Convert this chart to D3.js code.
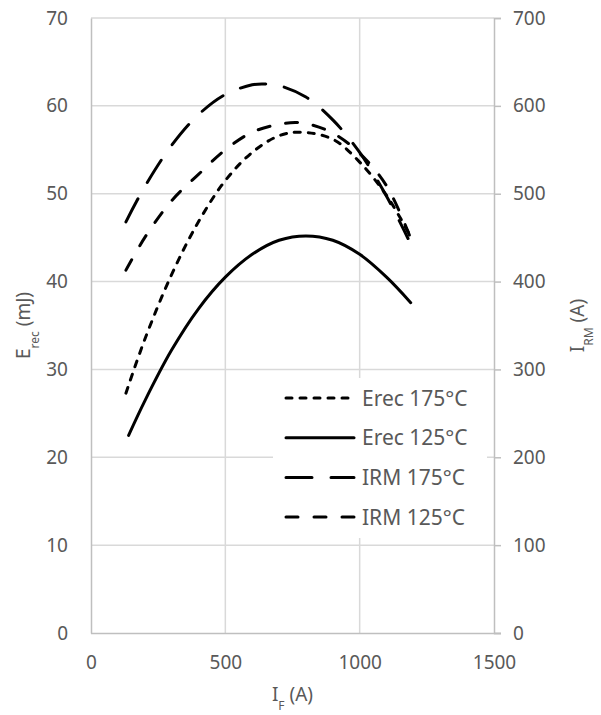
<!DOCTYPE html>
<html>
<head>
<meta charset="utf-8">
<script src="https://cdn.jsdelivr.net/npm/d3@7"></script>
<style>
  html, body { margin: 0; padding: 0; background: #fff; }
  svg { display: block; }
  text { font-family: "Noto Sans", "Open Sans", sans-serif; fill: #595959; }
</style>
</head>
<body>
<script>
// ---- data ----
const xTicks = [0, 500, 1000, 1500];
const leftTicks = [0, 10, 20, 30, 40, 50, 60, 70];
const rightTicks = [0, 100, 200, 300, 400, 500, 600, 700];

const erec175X = [130, 200, 300, 400, 500, 600, 700, 780, 900, 1000, 1100, 1185];
const erec175Y = [27.3, 33.4, 40.8, 46.8, 51.5, 54.7, 56.6, 57.0, 56.2, 53.6, 49.8, 45.4];

const erec125X = [140, 200, 300, 400, 500, 600, 700, 800, 900, 1000, 1100, 1190];
const erec125Y = [22.5, 26.4, 32.2, 36.9, 40.5, 43.1, 44.7, 45.2, 44.7, 43.1, 40.5, 37.6];

const irm175X = [130, 200, 300, 400, 500, 600, 640, 700, 800, 900, 1000, 1100, 1180];
const irm175Y = [468, 508, 555, 590, 613, 624, 625, 623, 610, 584, 547, 497, 449];

const irm125X = [130, 200, 300, 400, 500, 600, 700, 760, 800, 900, 1000, 1100, 1185];
const irm125Y = [413, 450, 492, 522, 550, 570, 579, 581, 580, 569, 546, 509, 453];

const legendLabels = ["Erec 175°C", "Erec 125°C", "IRM 175°C", "IRM 125°C"];

// ---- layout ----
const W = 601, H = 715;
const L = 91, R = 494, T = 18, B = 633;
const FONT = '"Noto Sans", "Open Sans", sans-serif';

const svg = d3.select("body").append("svg").attr("width", W).attr("height", H);

const x = d3.scaleLinear().domain([0, 1500]).range([L, R]);
const yL = d3.scaleLinear().domain([0, 70]).range([B, T]);
const yR = d3.scaleLinear().domain([0, 700]).range([B, T]);

// gridlines
const grid = svg.append("g");
grid.selectAll("line.h").data(leftTicks.filter(d => d > 0)).join("line")
  .attr("x1", L).attr("x2", R).attr("y1", d => yL(d)).attr("y2", d => yL(d))
  .attr("stroke", "#d9d9d9").attr("stroke-width", 1.5);
grid.selectAll("line.v").data(xTicks.filter(d => d > 0 && d < 1500)).join("line")
  .attr("x1", d => x(d)).attr("x2", d => x(d)).attr("y1", T).attr("y2", B)
  .attr("stroke", "#d9d9d9").attr("stroke-width", 1.5);

// axes
const axisColor = "#bfbfbf";
const fmt = d3.format("d");
const gx = svg.append("g").attr("transform", `translate(0,${B})`)
  .call(d3.axisBottom(x).tickValues(xTicks).tickFormat(fmt).tickSize(0).tickPadding(23));
const gl = svg.append("g").attr("transform", `translate(${L},0)`)
  .call(d3.axisLeft(yL).tickValues(leftTicks).tickFormat(fmt).tickSize(0).tickPadding(23));
const gr = svg.append("g").attr("transform", `translate(${R},0)`)
  .call(d3.axisRight(yR).tickValues(rightTicks).tickFormat(fmt).tickSize(7).tickPadding(12));
[gx, gl, gr].forEach(g => {
  g.select(".domain").attr("stroke", axisColor).attr("stroke-width", 1.5);
  g.selectAll(".tick line").attr("stroke", axisColor).attr("stroke-width", 1.5);
  g.selectAll(".tick text").attr("fill", "#595959").style("font-size", "19px")
    .style("font-family", FONT);
});
gx.select(".domain").attr("d", `M${L},0.5H${R + 7}`);

// series
const series = [
  { xs: erec175X, ys: erec175Y, y: yL, dash: "6,8" },
  { xs: erec125X, ys: erec125Y, y: yL, dash: null },
  { xs: irm175X, ys: irm175Y, y: yR, dash: "26,19" },
  { xs: irm125X, ys: irm125Y, y: yR, dash: "12,16" }
];

series.forEach(s => {
  const pts = s.xs.map((v, i) => [v, s.ys[i]]);
  const line = d3.line().x(d => x(d[0])).y(d => s.y(d[1])).curve(d3.curveCatmullRom.alpha(0.5));
  svg.append("path").datum(pts).attr("d", line)
    .attr("fill", "none").attr("stroke", "#000").attr("stroke-width", 3)
    .attr("stroke-linecap", "round")
    .attr("stroke-dasharray", s.dash);
});

// legend
const lg = svg.append("g");
lg.append("rect").attr("x", 273).attr("y", 378).attr("width", 214).attr("height", 160).attr("fill", "#fff");
legendLabels.forEach((lab, i) => {
  const yy = 398 + i * 39.7;
  lg.append("line").attr("x1", 286).attr("x2", 354).attr("y1", yy).attr("y2", yy)
    .attr("stroke", "#000").attr("stroke-width", 3).attr("stroke-linecap", "round")
    .attr("stroke-dasharray", series[i].dash);
  lg.append("text").attr("x", 362).attr("y", yy).attr("dy", "0.36em")
    .style("font-size", "21px").text(lab);
});

// axis titles
const lt = svg.append("text").attr("transform", `translate(30,${(T + B) / 2}) rotate(-90)`)
  .attr("text-anchor", "middle").style("font-size", "19px");
lt.append("tspan").text("E");
lt.append("tspan").attr("baseline-shift", "sub").style("font-size", "12px").text("rec");
lt.append("tspan").text(" (mJ)");

const rt = svg.append("text").attr("transform", `translate(584,${(T + B) / 2}) rotate(-90)`)
  .attr("text-anchor", "middle").style("font-size", "19px");
rt.append("tspan").text("I");
rt.append("tspan").attr("baseline-shift", "sub").style("font-size", "12px").text("RM");
rt.append("tspan").text(" (A)");

const xt = svg.append("text").attr("x", (L + R) / 2).attr("y", 701)
  .attr("text-anchor", "middle").style("font-size", "19px");
xt.append("tspan").text("I");
xt.append("tspan").attr("baseline-shift", "sub").style("font-size", "12px").text("F");
xt.append("tspan").text(" (A)");
</script>
</body>
</html>
